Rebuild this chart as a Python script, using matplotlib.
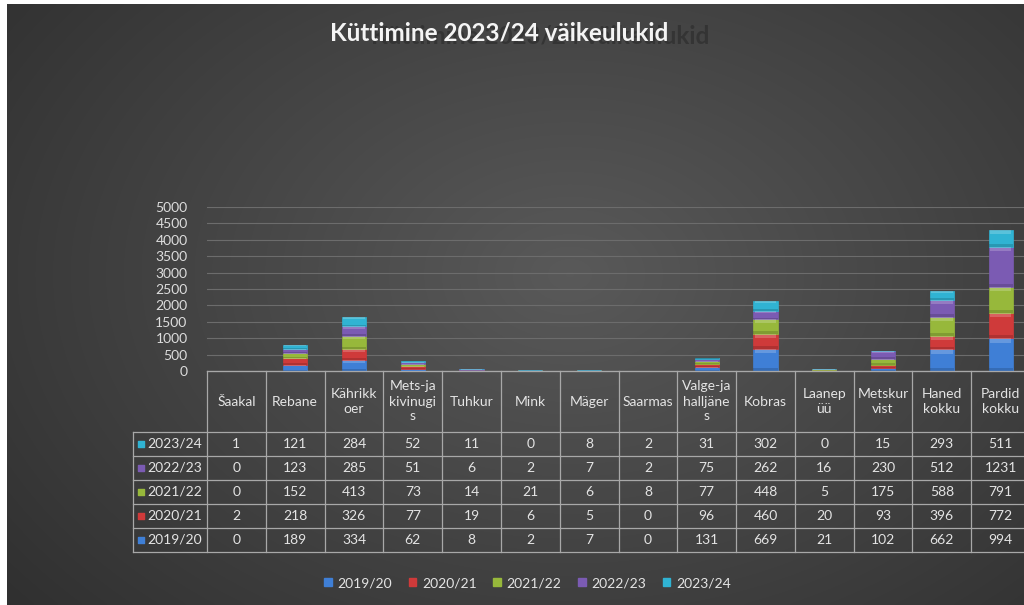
import numpy as np
import matplotlib
matplotlib.use("Agg")
import matplotlib.pyplot as plt
from matplotlib.patches import Patch

plt.rcParams['font.family'] = ['Lato', 'DejaVu Sans']

categories = ["Šaakal", "Rebane", "Kährikkoer", "Mets-ja kivinugis", "Tuhkur", "Mink", "Mäger",
              "Saarmas", "Valge-ja halljänes", "Kobras", "Laanepüü", "Metskurvist", "Haned kokku",
              "Pardid kokku"]
header_labels = ["Šaakal", "Rebane", "Kährikk\noer", "Mets-ja\nkivinugi\ns", "Tuhkur", "Mink", "Mäger",
                 "Saarmas", "Valge-ja\nhalljäne\ns", "Kobras", "Laanep\nüü", "Metskur\nvist", "Haned\nkokku",
                 "Pardid\nkokku"]
seasons = ["2019/20", "2020/21", "2021/22", "2022/23", "2023/24"]
s2019 = [0, 189, 334, 62, 8, 2, 7, 0, 131, 669, 21, 102, 662, 994]
s2020 = [2, 218, 326, 77, 19, 6, 5, 0, 96, 460, 20, 93, 396, 772]
s2021 = [0, 152, 413, 73, 14, 21, 6, 8, 77, 448, 5, 175, 588, 791]
s2022 = [0, 123, 285, 51, 6, 2, 7, 2, 75, 262, 16, 230, 512, 1231]
s2023 = [1, 121, 284, 52, 11, 0, 8, 2, 31, 302, 0, 15, 293, 511]
series = [s2019, s2020, s2021, s2022, s2023]
colors = ["#3f7fd6", "#cf3a3a", "#97b83b", "#7b5bb3", "#30b3d3"]
yticks = [0, 500, 1000, 1500, 2000, 2500, 3000, 3500, 4000, 4500, 5000]

W, H = 1024, 605
fig = plt.figure(figsize=(W / 100, H / 100), dpi=100, facecolor="white")

# background gradient
bg = fig.add_axes([7 / W, 0, 1, (H - 4) / H])
bg.set_axis_off()
gx, gy = np.meshgrid(np.linspace(0, 1, 400), np.linspace(0, 1, 240))
d = np.sqrt(((gx - 0.55) / 0.75) ** 2 + ((gy - 0.45) / 0.9) ** 2)
lum = np.clip(0.35 - 0.17 * d, 0.16, 0.35)
bg.imshow(np.dstack([lum, lum, lum]), aspect="auto", extent=[0, 1, 0, 1], interpolation="bicubic")

# chart axes
x0, x1, ytop, ybot = 207, 1030, 207, 371
ax = fig.add_axes([x0 / W, (H - ybot) / H, (x1 - x0) / W, (ybot - ytop) / H])
ax.set_facecolor("none")
x = np.arange(len(categories))
bottom = np.zeros(len(categories))
bw = 0.41
for vals, c in zip(series, colors):
    v = np.array(vals, dtype=float)
    ax.bar(x, v, bw, bottom=bottom, color=c, edgecolor=c, linewidth=0.5, zorder=3)
    hl = np.minimum(v * 0.25, 130)
    ax.bar(x, hl, bw * 0.9, bottom=bottom + v - hl, color="white", alpha=0.2, linewidth=0, zorder=4)
    sh = np.minimum(v * 0.2, 90)
    ax.bar(x, sh, bw, bottom=bottom, color="black", alpha=0.15, linewidth=0, zorder=4)
    bottom += v

ax.set_xlim(-0.5, len(categories) - 0.5)
ax.set_ylim(0, 5000)
ax.set_yticks(yticks)
ax.set_xticks([])
ax.tick_params(axis="y", length=0, colors="#dddddd", labelsize=10, pad=14)
ax.grid(axis="y", color="#6c6c6c", linewidth=0.8, zorder=0)
for s in ["top", "right", "left"]:
    ax.spines[s].set_visible(False)
ax.spines["bottom"].set_color("#a8a8a8")

# data table under the chart
header_h, row_h = 61, 24
n_rows = len(seasons)
tb_bottom = ybot + header_h + n_rows * row_h
tax = fig.add_axes([x0 / W, (H - tb_bottom) / H, (x1 - x0) / W, (tb_bottom - ybot) / H], sharex=ax)
tax.set_axis_off()
hdr = header_h / row_h
tax.set_ylim(0, n_rows + hdr)
lab_w = 74 / ((x1 - x0) / len(categories))
xl = -0.5 - lab_w
xr = len(categories) - 0.5
lc = "#a8a8a8"
txt = "#e4e4e4"
for i in range(len(categories) + 1):
    tax.plot([i - 0.5, i - 0.5], [0, n_rows + hdr], color=lc, lw=0.9, clip_on=False)
tax.plot([xl, xl], [0, n_rows], color=lc, lw=0.9, clip_on=False)
for r in range(n_rows + 1):
    tax.plot([xl, xr], [r, r], color=lc, lw=0.9, clip_on=False)
tax.plot([-0.5, xr], [n_rows + hdr, n_rows + hdr], color=lc, lw=0.9, clip_on=False)
for i, lab in enumerate(header_labels):
    tax.text(i, n_rows + hdr / 2, lab, ha="center", va="center", color=txt, fontsize=10,
             linespacing=1.3, clip_on=False)
for r, (name, vals, c) in enumerate(zip(seasons, series, colors)):
    yc = r + 0.5
    tax.scatter([xl + 0.13], [yc], marker="s", s=16, color=c, clip_on=False)
    tax.text(xl + 0.25, yc, name, ha="left", va="center", color=txt, fontsize=10, clip_on=False)
    for i, v in enumerate(vals):
        tax.text(i, yc, str(v), ha="center", va="center", color=txt, fontsize=10, clip_on=False)

# legend
handles = [Patch(facecolor=c, edgecolor=c) for c in colors]
fig.legend(handles, seasons, loc="center", bbox_to_anchor=(0.515, 0.036), ncol=5, frameon=False,
           fontsize=10, labelcolor="#e4e4e4", handlelength=0.55, handleheight=0.55,
           handletextpad=0.4, columnspacing=1.2)

# title with its faint shadow copy
title = "Küttimine 2023/24 väikeulukid"
fig.text(540 / W, 1 - 36 / H, title, ha="center", va="center", fontsize=17.5, fontweight="bold",
         color="#303030", alpha=0.8)
fig.text(499 / W, 1 - 33 / H, title, ha="center", va="center", fontsize=17.5, fontweight="bold",
         color="#f4f4f4")

fig.savefig("out.png", dpi=100, facecolor=fig.get_facecolor())
